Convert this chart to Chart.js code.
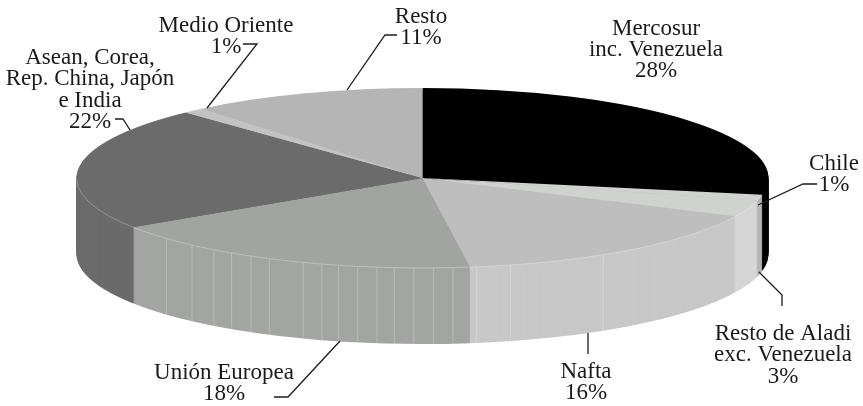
<!DOCTYPE html>
<html><head><meta charset="utf-8">
<style>html,body{margin:0;padding:0;background:#fff}#w{width:863px;height:406px;position:relative}</style>
<script src="https://cdn.jsdelivr.net/npm/chart.js@4"></script></head>
<body><div id="w"><canvas id="c"></canvas></div>
<script>
const categories = ['Mercosur\ninc. Venezuela','Chile','Resto de Aladi\nexc. Venezuela','Nafta','Unión Europea','Asean, Corea,\nRep. China, Japón\ne India','Medio Oriente','Resto'];
const shares = [28,1,3,15.8,18,22.2,1,11];
const topColors = ['#000000','#d0d2d0','#d0d2d0','#bdbebd','#a2a4a2','#6b6b6b','#c2c3c2','#b5b5b5'];
const sideColors = ['#000000','#b4b6b4','#d5d6d5','#c7c8c7','#a3a5a3','#6b6b6b','#c2c3c2','#b5b5b5'];
// Rim seams, in percent of the pie
const seams = [63.25,61.6,60.3,59.3,58.25,57.3,55.6,54.7,53.9,53,52.1,51.3,50.4,49.5,48.6,47.5,45.9,41.25];
// Annotation layout: label centre and first line y, leader polyline
const labelLayout = [
 {x:656,y:28.5,leader:null},
 {x:834,y:164,leader:[[758,205],[803,184],[817,184]]},
 {x:783,y:334,leader:[[759,272],[782,295],[782,306]]},
 {x:586,y:372,leader:[[588,333],[588,354]]},
 {x:224,y:373,leader:[[340,341],[288,397],[274,397]]},
 {x:90,y:58,leader:[[130,130],[123,119],[115,119]]},
 {x:226,y:26,leader:[[207,108],[257,44],[243,44]]},
 {x:421,y:17,leader:[[347,90],[385,35],[397,35]]}
];
const CX=422.5, CY=178, RX=346, RY=90, DEPTH=76, LH=21.3;

const pie3d = {
 id:'pie3d',
 beforeDatasetsDraw(chart){
  const ctx=chart.ctx, arcs=chart.getDatasetMeta(0).data;
  const a0=arcs[0];
  const place=(dy)=>{
    ctx.translate(CX,CY+dy);
    ctx.scale(1,RY/a0.outerRadius);
    ctx.translate(-a0.x,-a0.y);
  };
  // extruded rim from stacked copies of the library's arcs
  for(let d=DEPTH;d>=1;d--){
    ctx.save(); place(d);
    arcs.forEach((el,i)=>{
      const o=el.options;
      el.options=Object.assign({},o,{backgroundColor:sideColors[i],borderWidth:0});
      el.draw(ctx);
      el.options=o;
    });
    ctx.restore();
  }
  // seams on the rim
  ctx.save();
  ctx.lineWidth=0.8; ctx.strokeStyle='rgba(255,255,255,0.3)';
  seams.forEach(p=>{
    const t=p/100*2*Math.PI, x=CX+RX*Math.sin(t), y=CY-RY*Math.cos(t);
    ctx.beginPath(); ctx.moveTo(x,y); ctx.lineTo(x,y+DEPTH); ctx.stroke();
  });
  ctx.restore();
  // top face
  ctx.save(); place(0);
  arcs.forEach(el=>el.draw(ctx));
  ctx.restore();
  // light rim line on the front edge
  ctx.save();
  ctx.lineWidth=0.8; ctx.strokeStyle='rgba(255,255,255,0.35)';
  ctx.beginPath(); ctx.ellipse(CX,CY,RX,RY,0,0.2,Math.PI-0.01); ctx.stroke();
  ctx.restore();
  // leaders and labels
  ctx.save();
  ctx.strokeStyle='#1c1c1c'; ctx.lineWidth=1.3; ctx.lineJoin='miter';
  labelLayout.forEach(l=>{
    if(!l.leader) return;
    ctx.beginPath();
    l.leader.forEach((p,i)=> i?ctx.lineTo(p[0],p[1]):ctx.moveTo(p[0],p[1]));
    ctx.stroke();
  });
  ctx.fillStyle='#1a1a1a'; ctx.font='23px "Liberation Serif"';
  ctx.textAlign='center'; ctx.textBaseline='middle';
  labelLayout.forEach((l,i)=>{
    const lines=categories[i].split('\n').concat(Math.round(shares[i])+'%');
    lines.forEach((s,k)=>ctx.fillText(s,l.x,l.y+k*LH));
  });
  ctx.restore();
  return false;
 }
};

new Chart(document.getElementById('c'),{
 type:'pie',
 data:{labels:categories,datasets:[{data:shares,backgroundColor:topColors,borderWidth:0,borderColor:'transparent',radius:RX}]},
 options:{responsive:true,maintainAspectRatio:false,animation:false,events:[],
  layout:{padding:0},
  plugins:{legend:{display:false},tooltip:{enabled:false}}},
 plugins:[pie3d]
});
</script></body></html>
